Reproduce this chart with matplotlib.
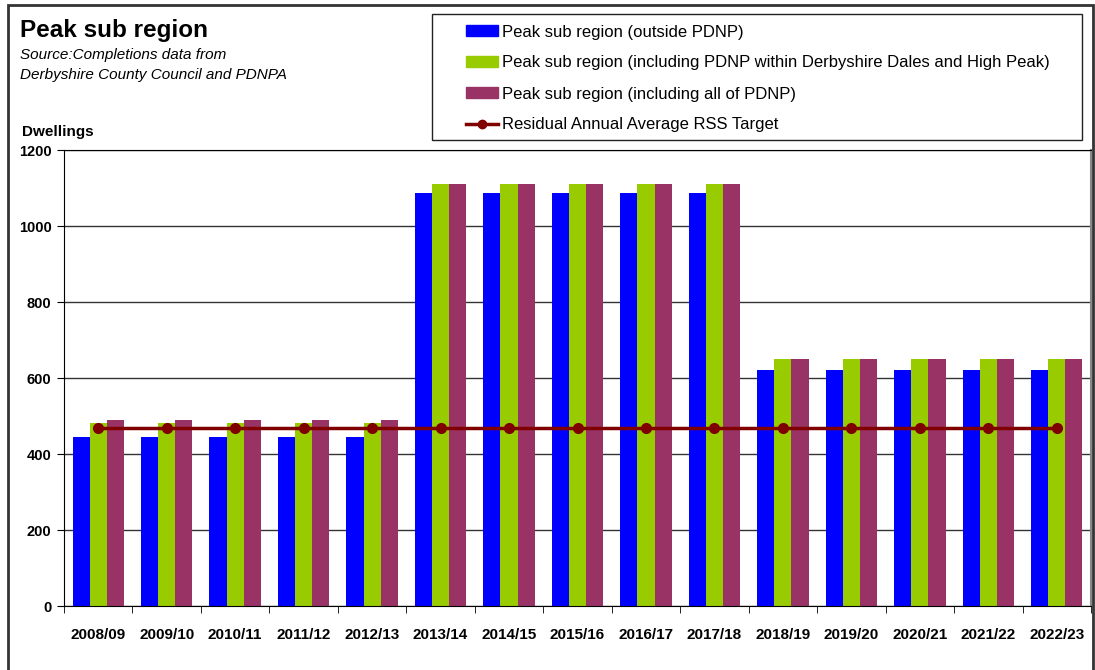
import numpy as np
import matplotlib.pyplot as plt
from matplotlib.patches import Rectangle
from matplotlib.lines import Line2D

plt.rcParams['font.family'] = ['Liberation Sans', 'DejaVu Sans']

years = ['2008/09', '2009/10', '2010/11', '2011/12', '2012/13', '2013/14', '2014/15',
         '2015/16', '2016/17', '2017/18', '2018/19', '2019/20', '2020/21', '2021/22', '2022/23']
outside_pdnp = [445, 445, 445, 445, 445, 1087, 1087, 1087, 1087, 1087, 621, 621, 621, 621, 621]
incl_dd_hp = [481, 481, 481, 481, 481, 1111, 1111, 1111, 1111, 1111, 650, 650, 650, 650, 650]
incl_all_pdnp = [489, 489, 489, 489, 489, 1111, 1111, 1111, 1111, 1111, 650, 650, 650, 650, 650]
rss_target = [468] * 15

labels = ['Peak sub region (outside PDNP)',
          'Peak sub region (including PDNP within Derbyshire Dales and High Peak)',
          'Peak sub region (including all of PDNP)',
          'Residual Annual Average RSS Target']

W, H = 1095, 670
fig = plt.figure(figsize=(10.95, 6.70), dpi=100)
ax = fig.add_axes([64 / W, 64 / H, (1091 - 64) / W, (606 - 150) / H])

x = np.arange(len(years))
w = 0.25
ax.bar(x - w, outside_pdnp, w, color='#0000ff', zorder=2)
ax.bar(x, incl_dd_hp, w, color='#99cc00', zorder=2)
ax.bar(x + w, incl_all_pdnp, w, color='#993366', zorder=2)
ax.plot(x, rss_target, color='#800000', lw=2.5, marker='o', ms=7, zorder=3)

ax.set_xlim(-0.5, len(years) - 0.5)
ax.set_ylim(0, 1200)
ax.set_yticks(range(0, 1201, 200))
ax.yaxis.grid(True, color='#333333', lw=1, zorder=0)
ax.set_xticks(x)
ax.set_xticklabels(years, fontsize=11, fontweight='bold')
ax.tick_params(axis='x', length=0, pad=16)
ax.set_xticks(np.arange(-0.5, len(years)), minor=True)
ax.tick_params(axis='x', which='minor', length=5, direction='out')
ax.tick_params(axis='y', length=5, direction='out', labelsize=10.5, pad=4)
for t in ax.get_yticklabels():
    t.set_fontweight('bold')
for s in ['left', 'bottom', 'top']:
    ax.spines[s].set_color('black')
ax.spines['right'].set_color('#888888')
ax.spines['right'].set_linewidth(1.5)

# outer chart frame
fig.patches.append(Rectangle((8 / W, -0.05), (1093 - 8) / W, 1 - 5 / H + 0.05,
                             transform=fig.transFigure, fill=False, ec='#333333', lw=2))

fig.text(20 / W, 1 - 30 / H, 'Peak sub region', fontsize=17.5, fontweight='bold', va='center')
fig.text(20 / W, 1 - 55 / H, 'Source:Completions data from', fontsize=11, style='italic', va='center')
fig.text(20 / W, 1 - 75 / H, 'Derbyshire County Council and PDNPA', fontsize=11, style='italic', va='center')
fig.text(22 / W, 1 - 132 / H, 'Dwellings', fontsize=11, fontweight='bold', va='center')

# legend frame drawn separately, legend itself without frame
fig.patches.append(Rectangle((432 / W, 1 - 140 / H), (1082 - 432) / W, 126 / H,
                             transform=fig.transFigure, fill=False, ec='#222222', lw=1))
handles = [Rectangle((0, 0), 1, 1, color='#0000ff'),
           Rectangle((0, 0), 1, 1, color='#99cc00'),
           Rectangle((0, 0), 1, 1, color='#993366'),
           Line2D([], [], color='#800000', lw=2.5, marker='o', ms=6)]
leg = fig.legend(handles, labels, loc='upper left', bbox_to_anchor=(466 / W, 1 - 24.5 / H),
                 fontsize=12, frameon=False, handlelength=1.9, handleheight=0.6,
                 labelspacing=0.96, borderpad=0, borderaxespad=0, handletextpad=0.25)

fig.savefig('out.png', dpi=100)
